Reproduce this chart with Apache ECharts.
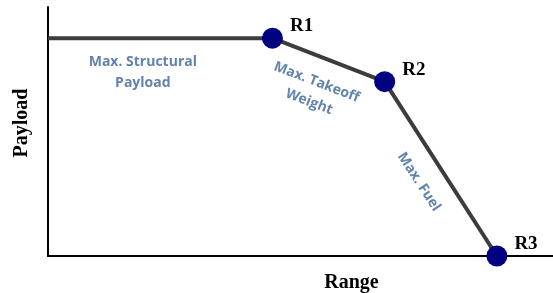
<!DOCTYPE html>
<html lang="en">
<head>
<meta charset="UTF-8">
<title>Payload-Range</title>
<script src="https://cdnjs.cloudflare.com/ajax/libs/echarts/6.0.0/echarts.min.js"></script>
<style>
  html, body { margin: 0; padding: 0; background: #fff; }
</style>
</head>
<body>
<div id="chart" style="width:553px; height:293px;"></div>
<script>
  // envelope corners (range, payload)
  var ranges   = [0, 4, 6, 8];
  var payloads = [7, 7, 5.6, 0];
  var pointNames = ['', 'R1', 'R2', 'R3'];

  // annotation text and where it sits (data coords) + rotation
  var noteTexts  = ['Max. Structural\nPayload', 'Max. Takeoff\nWeight', 'Max. Fuel'];
  var noteRanges = [1.69, 4.72, 6.61];
  var notePays   = [5.88, 5.27, 2.38];
  var noteAngles = [0, -21, -57];

  var lineData = ranges.map(function (r, i) {
    var item = { value: [r, payloads[i]], name: pointNames[i] };
    if (!pointNames[i]) item.symbol = 'none';
    return item;
  });

  var noteData = noteTexts.map(function (t, i) {
    return {
      value: [noteRanges[i], notePays[i]],
      label: { formatter: t, rotate: noteAngles[i] }
    };
  });

  var myChart = echarts.init(document.getElementById('chart'));
  var option = {
    animation: false,
    grid: { left: 48, right: 0, top: 7, bottom: 37, outerBoundsMode: 'none', containLabel: false },
    xAxis: {
      type: 'value', min: 0, max: 9,
      name: 'Range', nameLocation: 'middle', nameGap: 17,
      nameTextStyle: { fontFamily: 'Liberation Serif', fontWeight: 'bold', fontSize: 20, color: '#000', padding: [0, 0, 0, 102] },
      axisLine: { lineStyle: { color: '#000', width: 2 } },
      axisTick: { show: false }, axisLabel: { show: false }, splitLine: { show: false }
    },
    yAxis: {
      type: 'value', min: 0, max: 8,
      name: 'Payload', nameLocation: 'middle', nameGap: 16, nameRotate: 90,
      nameTextStyle: { fontFamily: 'Liberation Serif', fontWeight: 'bold', fontSize: 20, color: '#000', padding: [0, 0, 0, 17] },
      axisLine: { show: true, lineStyle: { color: '#000', width: 2 } },
      axisTick: { show: false }, axisLabel: { show: false }, splitLine: { show: false }
    },
    series: [
      {
        type: 'line',
        data: lineData,
        symbol: 'circle',
        symbolSize: 21,
        lineStyle: { color: '#3c3c3c', width: 4 },
        itemStyle: { color: '#000080' },
        label: {
          show: true, position: 'right', distance: 5, offset: [2, -12],
          formatter: '{b}',
          fontFamily: 'Liberation Serif', fontWeight: 'bold', fontSize: 19, color: '#000'
        },
        z: 3
      },
      {
        type: 'scatter',
        data: noteData,
        symbolSize: 0,
        silent: true,
        label: {
          show: true, position: 'inside',
          fontFamily: 'Open Sans', fontWeight: 'bold', fontSize: 14, lineHeight: 21,
          color: '#3b6499', align: 'center', verticalAlign: 'middle'
        }
      }
    ]
  };
  myChart.setOption(option);
</script>
</body>
</html>
